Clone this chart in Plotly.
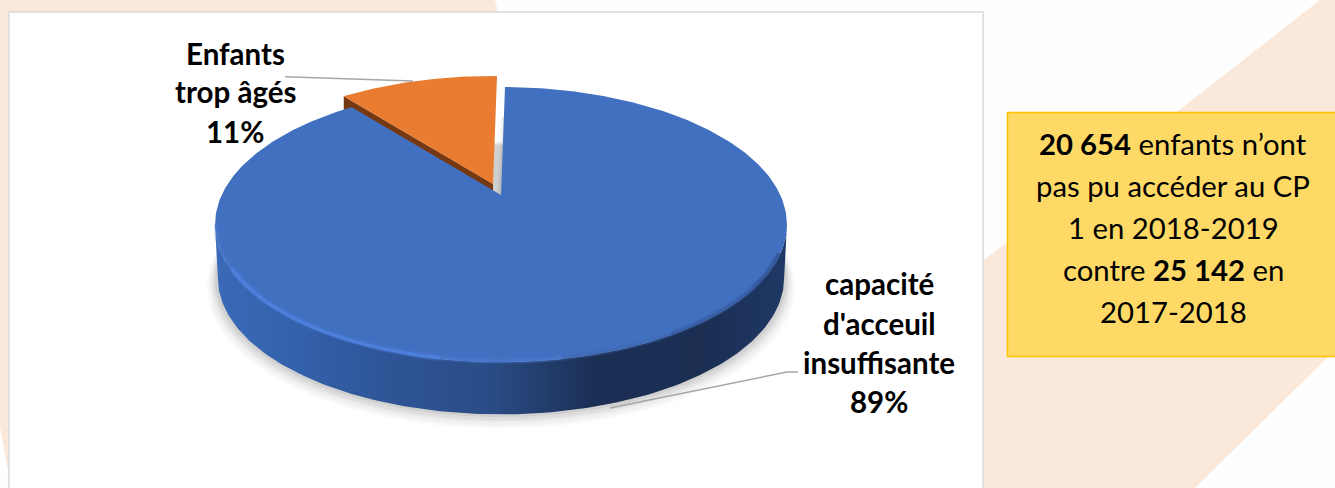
import math
import plotly.graph_objects as go

# ---------- data ----------
categories = ["capacité d'acceuil insuffisante", "Enfants trop âgés"]
values = [89, 11]
label_lines_blue = ["capacité", "d'acceuil", "insuffisante"]
label_lines_orange = ["Enfants", "trop âgés"]
box_lines = [
    "<b>20 654</b> enfants n’ont",
    "pas pu accéder au CP",
    "1 en 2018-2019",
    "contre <b>25 142</b> en",
    "2017-2018",
]
colors = ["#4270C0", "#E97C30"]

W, H = 1335, 488
# perspective pie geometry (pixel-scaled axes)
CX, CY, A, B, K = 501, 195, 131.2, 279.3, 0.2145
START = 1.0
DEPTH = 54
OFF = (-8, -11)


def proj(theta, scale=1.0, dy=0.0, ox=0.0, oy=0.0):
    t = math.radians(theta)
    u, v = math.sin(t), math.cos(t)
    d = 1 + K * v
    return CX + ox + scale * B * u / d, CY + oy + dy - scale * A * v / d


def arc(t0, t1, n=180, **kw):
    pts = [proj(t0 + (t1 - t0) * i / n, **kw) for i in range(n + 1)]
    return [p[0] for p in pts], [p[1] for p in pts]


total = sum(values)
blue_end = START + 360 * values[0] / total
orange_end = blue_end + 360 * values[1] / total

fig = go.Figure()


def poly(x, y, color, opacity=1.0, **kw):
    fig.add_trace(go.Scatter(x=x, y=y, mode="lines", fill="toself", fillcolor=color,
                             line=dict(width=0), opacity=opacity, hoverinfo="skip",
                             showlegend=False, **kw))


def line(x, y, color, width=1.2, opacity=1.0):
    fig.add_trace(go.Scatter(x=x, y=y, mode="lines", line=dict(color=color, width=width),
                             opacity=opacity, hoverinfo="skip", showlegend=False))


# soft shadow beneath the disc
for s, dy, op in [(1.030, DEPTH + 8, 0.015), (1.024, DEPTH + 7, 0.02), (1.018, DEPTH + 6, 0.025),
                  (1.012, DEPTH + 4, 0.035), (1.006, DEPTH + 3, 0.045), (1.0, DEPTH + 1, 0.06)]:
    x, y = arc(0, 360, n=240, scale=s, dy=dy)
    poly(x, y, "#000000", op)

# orange cut face
ox, oy = OFF
p0 = proj(blue_end, ox=ox, oy=oy)
apex = (CX + ox, CY + oy)
poly([p0[0], apex[0], apex[0], p0[0], p0[0]],
     [p0[1], apex[1], apex[1] + DEPTH, p0[1] + DEPTH, p0[1]], "#763810")

# front wall of the blue slice
tx, ty = arc(0, 360, n=720)
i_r = max(range(len(tx)), key=lambda i: tx[i])
i_l = min(range(len(tx)), key=lambda i: tx[i])
t_r, t_l = 360 * i_r / 720, 360 * i_l / 720
x1, y1 = arc(t_r, t_l)
x2, y2 = arc(t_r, t_l, scale=0.99, dy=DEPTH)
poly(x1 + x2[::-1] + [x1[0]], y1 + y2[::-1] + [y1[0]], None,
     fillgradient=dict(type="horizontal",
                       colorscale=[[0, "#3A6AB8"], [0.12, "#3463AE"], [0.3, "#2F5597"],
                                   [0.48, "#2A4C86"], [0.66, "#1B2F55"], [0.85, "#1B2E52"],
                                   [1, "#1F3864"]]))

# gap shadow beside the orange slice
bx0 = proj(START)
for w, op in [(2, 0.05), (4, 0.04)]:
    poly([bx0[0] - w, bx0[0], CX, CX - w, bx0[0] - w],
         [bx0[1] + 30, bx0[1] + 30, CY, CY, bx0[1] + 30], "#000000", op)

# slices' top faces
x, y = arc(START, blue_end, n=360)
poly([CX] + x + [CX], [CY] + y + [CY], colors[0])
x, y = arc(blue_end, orange_end, n=60, ox=ox, oy=oy)
poly([apex[0]] + x + [apex[0]], [apex[1]] + y + [apex[1]], colors[1])

# bevel highlight along the front rim (wide, faint under-layer, then narrower)
steps = [(258, 240, "#4A7AD0", 0.45), (240, 215, "#4F82E2", 0.8), (215, 190, "#4F82E2", 0.8),
         (190, 170, "#4A7AD0", 0.55), (170, 150, "#3F68B0", 0.55), (150, 128, "#345A9E", 0.6),
         (128, 114, "#2F5090", 0.6)]
for a0, a1, c, op in steps:
    x, y = arc(a0, a1, n=30, scale=0.995, dy=0)
    line(x, y, c, width=6, opacity=op * 0.45)
    x, y = arc(a0, a1, n=30, scale=0.995, dy=0)
    line(x, y, c, width=3, opacity=op)

# leader lines
fig.add_trace(go.Scatter(x=[285, 413], y=[76.7, 81], mode="lines",
                         line=dict(color="#A6A6A6", width=1.5), hoverinfo="skip", showlegend=False))
fig.add_trace(go.Scatter(x=[610, 787, 798], y=[408, 372, 372], mode="lines",
                         line=dict(color="#A6A6A6", width=1.5), hoverinfo="skip", showlegend=False))

# ---------- background / panel ----------
PEACH = "#FAE8DA"
shapes = [
    dict(type="path", layer="below", fillcolor=PEACH, line_width=0,
         path="M0,0 L495,0 L498,12 L8,12 L8,470 L0,427 Z"),
    dict(type="path", layer="below", fillcolor=PEACH, line_width=0,
         path="M1205,90 L1320,0 L1335,0 L1335,350 L1195,488 L984,488 L984,260 Z"),
    dict(type="rect", layer="below", x0=9, x1=983, y0=12, y1=492,
         fillcolor="#FFFFFF", line=dict(color="#D9D9D9", width=1.5)),
    dict(type="rect", layer="below", x0=1007.5, x1=1340, y0=112.5, y1=356.5,
         fillcolor="#FFD966", line=dict(color="#FFC000", width=1.5)),
]

FONT = "Lato, Carlito, Calibri, sans-serif"
ann = []


def label(text, x, y, size, bold=False):
    ann.append(dict(x=x, y=y, text=f"<b>{text}</b>" if bold else text, showarrow=False,
                    xanchor="center", yanchor="middle", font=dict(family=FONT, size=size, color="#000000")))


for t, yy in zip(label_lines_orange + [f"{values[1]}%"], [53, 91, 131]):
    label(t, 235, yy, 29.5, True)
for t, yy in zip(label_lines_blue + [f"{values[0]}%"], [283.5, 323.5, 362.5, 401.5]):
    label(t, 879, yy, 29.5, True)
for t, yy in zip(box_lines, [143.5, 185.5, 227.5, 269.5, 311.5]):
    label(t, 1173, yy, 29.3)

fig.update_layout(
    width=W, height=H, margin=dict(l=0, r=0, t=0, b=0), showlegend=False,
    paper_bgcolor="#FEFEFE", plot_bgcolor="rgba(0,0,0,0)",
    xaxis=dict(range=[0, W], visible=False, fixedrange=True),
    yaxis=dict(range=[H, 0], visible=False, fixedrange=True),
    shapes=shapes, annotations=ann,
)
fig.write_html("out.html", config=dict(displayModeBar=False),
               post_script="document.body.style.margin='0';document.body.style.overflow='hidden';")
